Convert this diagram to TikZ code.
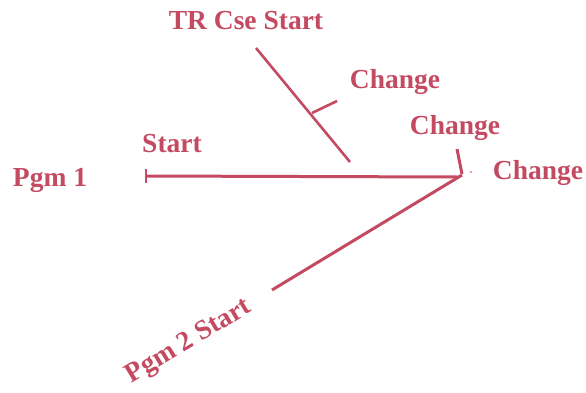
\documentclass[tikz,border=0pt]{standalone}
\usepackage{fontspec}
\setmainfont{Liberation Serif}
\definecolor{ink}{RGB}{196,74,98}
\begin{document}
\begin{tikzpicture}[x=1pt,y=-1pt,
  lbl/.style={text=ink,font=\fontsize{27.5}{30}\selectfont\bfseries,inner sep=0pt},
  ln/.style={draw=ink,line width=3pt}]
\useasboundingbox (0,0) rectangle (586,392);
% coordinates
\coordinate (mL) at (146,176);
\coordinate (mR) at (459,177);
\coordinate (tL) at (146,169);
\coordinate (bL) at (146,183);
\coordinate (p2a) at (272,290);
\coordinate (p2b) at (462,175);
\coordinate (c2a) at (457,149);
\coordinate (c2b) at (462,174);
\coordinate (tra) at (256,48);
\coordinate (trb) at (350,162);
\coordinate (tka) at (312,113);
\coordinate (tkb) at (337,101);
% lines
\draw[ln] (mL) -- (mR);
\draw[ln,line width=2.6pt] (tL) -- (bL);
\draw[ln] (p2a) -- (p2b);
\draw[ln] (c2a) -- (c2b);
\draw[ln,line width=2.6pt] (tra) -- (trb);
\draw[ln,line width=2.6pt] (tka) -- (tkb);
\fill[ink] (471,172) circle (0.8);
% labels
\node[lbl] (trcse) at (246,21) {TR Cse Start};
\node[lbl] (ch1) at (395,82) {Change};
\node[lbl] (ch2) at (455,128) {Change};
\node[lbl] (ch3) at (538,173) {Change};
\node[lbl] (start) at (172,144) {Start};
\node[lbl] (pgm1) at (50,180) {Pgm 1};
\node[lbl,rotate=31] (pgm2) at (189,342) {Pgm 2 Start};
\end{tikzpicture}
\end{document}
